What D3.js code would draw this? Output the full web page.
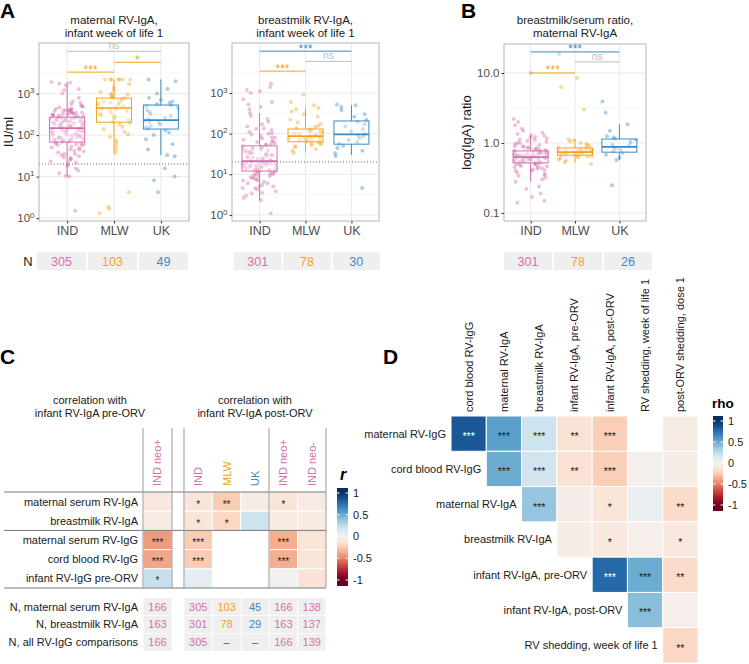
<!DOCTYPE html>
<html><head><meta charset="utf-8">
<script src="https://cdn.jsdelivr.net/npm/d3@7/dist/d3.min.js"></script>
<style>
body{margin:0;background:#fff;}
svg text{font-family:"Liberation Sans",Arial,Helvetica,sans-serif;}
</style></head><body>
<svg id="fig" width="749" height="664"></svg>
<script>
// ================= DATA =================
const sites = ["IND","MLW","UK"];
const siteColors = ["#D56FAB","#F2A31B","#3A8AC7"];

// Panel A (left): maternal RV-IgA, IU/ml
const maternalIgA_IND = [1.5,10,10.5,12,14,16,18,19,21,23,25,27,29,31,33,35,38,40,42,45,48,50,53,56,58,60,62,64,66,
 69,70,72,74,76,78,80,82,85,88,90,93,96,99,102,105,108,112,116,120,124,128,132,136,140,144,
 150,154,158,162,166,170,175,180,186,192,198,204,210,216,222,230,238,246,254,262,268,
 275,285,295,305,315,325,335,345,355,365,380,395,410,430,460,500,560,650,800,1000,1300,1600,1750,1850,1900,
 205,215,228,245,260,290,310,330,350,370,390,420,440,480,520,120,135,95,86,75,60,45,35,28,22,170,185,240,300,400,600,1200];
const maternalIgA_MLW = [1.3,1.65,1.85,4.2,37,45,55,65,75,90,105,120,140,160,180,195,
 210,230,250,270,290,310,330,350,380,410,440,460,490,520,550,580,610,650,690,730,770,
 800,850,900,1000,1100,1200,1400,1700,2200,2200,2200,2200,2200,2200,2200,300,420,600,950];
const maternalIgA_UK = [4.2,8.2,10,16,31,33,45,60,80,100,115,130,145,155,165,180,195,210,225,
 240,260,290,320,360,400,450,500,520,560,600,650,700,800,1000,1300,2000,2200];
// box stats: [q1, median, q3, lower whisker, upper whisker]
const maternalIgA_box = [[68,147,270,10,1900],[205,450,780,37,2200],[140,230,530,33,2200]];
const maternalIgA_N = [305,103,49];
const maternalIgA_sig = [{a:"IND",b:"UK",label:"ns",col:"ns",y:10500},{a:"MLW",b:"UK",label:"*",col:"MLW",y:5700},{a:"IND",b:"MLW",label:"***",col:"MLW",y:3300}];

// Panel A (right): breastmilk RV-IgA, IU/ml
const breastmilkIgA_IND = [1.1,2.3,2.6,3,3.4,3.8,4.2,4.6,5,5.5,6,6.5,7,7.5,8,8.5,9,9.5,10,10.5,11,11.5,
 12.2,12.8,13.1,13.9,14.3,14.8,15.6,16.1,16.4,17.2,17.9,18.3,18.8,19.5,20.1,20.7,
 21.5,22.4,23.6,24.8,26,27.3,28.9,30.2,31.8,33.5,35.1,36.9,38.6,40.4,42.5,44.3,46.7,48.9,
 52,55,58,62,66,71,76,82,88,95,103,112,122,135,150,170,195,230,270,320,
 400,450,520,600,700,1000,1100,1200,1400,1700,
 8,9,10,11,12,13,14,15,16,17,18,19,20,22,24,26,28,30,33,36,40,45,55,65,80,100,130,5,6,7,3.5,4.5];
const breastmilkIgA_MLW = [34,38,42,46,49,52,55,57,59,61,64,66,68,70,72,74,76,78,80,82,84,86,
 88,91,94,97,100,104,108,112,116,120,124,128,135,145,155,170,190,220,260,300,350,400,430,500,600,900];
const breastmilkIgA_UK = [4.6,28,33,38,44,50,56,62,70,78,86,93,100,115,130,150,170,195,220,260,300,380,450,500,520];
const breastmilkIgA_box = [[12,21,50,2.3,320],[63,87,130,34,430],[55,96,205,30,500]];
const breastmilkIgA_N = [301,78,30];
const breastmilkIgA_sig = [{a:"IND",b:"UK",label:"***",col:"UK",y:10700},{a:"MLW",b:"UK",label:"ns",col:"ns",y:6000},{a:"IND",b:"MLW",label:"***",col:"MLW",y:3450}];

// Panel B: breastmilk/serum ratio
const ratio_IND = [0.14,0.15,0.17,0.19,0.22,0.24,0.28,0.3,0.32,0.34,0.36,0.38,0.4,0.41,0.42,0.43,0.44,0.45,0.46,0.47,0.48,0.49,0.5,0.51,
 0.52,0.53,0.54,0.545,0.55,0.56,0.565,0.57,0.58,0.585,0.59,0.6,0.61,0.615,0.62,0.625,
 0.635,0.64,0.65,0.66,0.67,0.68,0.69,0.7,0.71,0.72,0.73,0.74,0.75,0.76,0.77,
 0.78,0.8,0.82,0.84,0.86,0.88,0.9,0.93,0.96,1.0,1.04,1.08,1.12,1.17,1.22,1.27,1.3,
 1.35,1.4,1.5,1.6,1.8,2.0,2.2,10,
 0.45,0.5,0.55,0.58,0.6,0.62,0.65,0.68,0.7,0.72,0.75,0.8,0.85,0.9,1.0,1.1,1.2,0.4,0.35,0.52,0.57,0.63,0.66,0.69,0.74,0.78];
const ratio_MLW = [0.5,0.53,0.56,0.58,0.6,0.62,0.64,0.66,0.67,0.68,0.69,0.7,0.71,0.72,0.73,0.735,
 0.745,0.75,0.76,0.77,0.78,0.79,0.8,0.82,0.84,0.87,0.9,0.93,0.96,1.0,1.05,1.1,1.13,3.0,6.3,8.5,18.7,0.7,0.75,0.8,0.65];
const ratio_UK = [0.25,0.57,0.62,0.68,0.72,0.76,0.8,0.84,0.87,0.9,0.95,1.0,1.05,1.1,1.15,1.2,1.25,1.5,1.85,2.7,3.9];
const ratio_box = [[0.52,0.63,0.77,0.28,1.3],[0.67,0.74,0.85,0.52,1.13],[0.74,0.88,1.14,0.57,1.85]];
const ratio_N = [301,78,26];
const ratio_sig = [{a:"IND",b:"UK",label:"***",col:"UK",y:20},{a:"MLW",b:"UK",label:"ns",col:"ns",y:14.4},{a:"IND",b:"MLW",label:"***",col:"MLW",y:10}];

const logTicksIU = [1,10,100,1000];
const ratioTicks = [0.1,1,10];
const ratioTickLabels = ["0.1","1.0","10.0"];
const cutoffIU = 20;

// Panel C
const cRows = ["maternal serum RV-IgA","breastmilk RV-IgA","maternal serum RV-IgG","cord blood RV-IgG","infant RV-IgG pre-ORV"];
const cPreCols = ["IND neo+"];
const cPreColSite = ["IND"];
const cPostCols = ["IND","MLW","UK","IND neo+","IND neo-"];
const cPostColSite = ["IND","MLW","UK","IND","IND"];
const cPre_r = [[-0.1,-0.07,-0.42,-0.39,0.22]];
const cPre_sig = [["","","***","***","*"]];
const cPost_r = [[-0.12,-0.12,-0.25,-0.25,0.1],[-0.25,-0.2,null,null,null],[-0.06,0.2,null,null,null],[-0.12,-0.08,-0.36,-0.36,0.02],[-0.08,-0.07,-0.12,-0.12,-0.13]];
const cPost_sig = [["*","*","***","***",""],["**","*","","",""],["","","","",""],["*","","***","***",""],["","","","",""]];
const cNLabels = ["N, maternal serum RV-IgA","N, breastmilk RV-IgA","N, all RV-IgG comparisons"];
const cPre_N = [[166,163,166]];
const cPost_N = [[305,301,305],[103,78,null],[45,29,null],[166,163,166],[138,137,139]];
const legendTicks = [1,0.5,0,-0.5,-1];

// Panel D
const dRows = ["maternal RV-IgG","cord blood RV-IgG","maternal RV-IgA","breastmilk RV-IgA","infant RV-IgA, pre-ORV","infant RV-IgA, post-ORV","RV shedding, week of life 1"];
const dCols = ["cord blood RV-IgG","maternal RV-IgA","breastmilk RV-IgA","infant RV-IgA, pre-ORV","infant RV-IgA, post-ORV","RV shedding, week of life 1","post-ORV shedding, dose 1"];
const dRho = [
 [0.85,0.55,0.2,-0.14,-0.24,null,-0.06],
 [null,0.5,0.18,-0.14,-0.24,-0.02,-0.05],
 [null,null,0.38,-0.04,-0.12,0.05,-0.18],
 [null,null,null,-0.05,-0.1,-0.03,-0.1],
 [null,null,null,null,0.78,0.5,-0.18],
 [null,null,null,null,null,0.42,-0.03],
 [null,null,null,null,null,null,-0.2]];
const dSig = [
 ["***","***","***","**","***","",""],
 ["","***","***","**","***","",""],
 ["","","***","","*","","**"],
 ["","","","","*","","*"],
 ["","","","","***","***","**"],
 ["","","","","","***",""],
 ["","","","","","","**"]];

// ================= DRAW =================
const svg = d3.select("#fig");
const TXT = "#4D4D4D";
const colorOf = k => k==="ns" ? "#BDBDBD" : siteColors[sites.indexOf(k)];
const rdbu = v => d3.interpolateRdBu((v+1)/2);
// deterministic horizontal jitter offset (display only)
function jitter(i,k){ const s=Math.sin((i+1)*12.9898+(k+1)*78.233)*43758.5453; return s-Math.floor(s)-0.5; }

function boxPanel(cfg){
  const g = svg.append("g");
  const x = d3.scalePoint().domain(sites).range([cfg.x0,cfg.x1]).padding(0.6);
  const y = d3.scaleLog().domain(cfg.yDomain).range([cfg.yB,cfg.yT]);
  const lo = Math.log10(cfg.yDomain[0]), hi = Math.log10(cfg.yDomain[1]);
  const minor = [];
  for(let e=Math.floor(lo)-1;e<=Math.ceil(hi);e++){const v=Math.pow(10,e+0.5); if(Math.log10(v)>lo&&Math.log10(v)<hi) minor.push(v);}
  g.append("rect").attr("x",cfg.x0).attr("y",cfg.yT).attr("width",cfg.x1-cfg.x0).attr("height",cfg.yB-cfg.yT).attr("fill","#fff");
  g.append("g").selectAll("line").data(minor).join("line")
    .attr("x1",cfg.x0).attr("x2",cfg.x1).attr("y1",d=>y(d)).attr("y2",d=>y(d)).attr("stroke","#F2F2F2").attr("stroke-width",0.6);
  g.append("g").selectAll("line").data(cfg.ticks).join("line")
    .attr("x1",cfg.x0).attr("x2",cfg.x1).attr("y1",d=>y(d)).attr("y2",d=>y(d)).attr("stroke","#E8E8E8").attr("stroke-width",0.9);
  g.append("g").selectAll("line").data(sites).join("line")
    .attr("x1",d=>x(d)).attr("x2",d=>x(d)).attr("y1",cfg.yT).attr("y2",cfg.yB).attr("stroke","#E8E8E8").attr("stroke-width",0.9);
  if(cfg.cutoff){
    g.append("line").attr("x1",cfg.x0).attr("x2",cfg.x1).attr("y1",y(cfg.cutoff)).attr("y2",y(cfg.cutoff))
     .attr("stroke","#555").attr("stroke-width",0.9).attr("stroke-dasharray","1,2");
  }
  cfg.points.forEach((arr,k)=>{
    g.append("g").selectAll("circle").data(arr).join("circle")
      .attr("cx",(d,i)=>x(sites[k])+jitter(i,k+cfg.seed)*34).attr("cy",d=>y(d)).attr("r",2)
      .attr("fill",siteColors[k]).attr("fill-opacity",0.42);
  });
  const bw = 35;
  cfg.box.forEach((b,k)=>{
    const cx = x(sites[k]), c = siteColors[k];
    const bg = g.append("g").attr("stroke",c).attr("fill","none");
    bg.append("line").attr("x1",cx).attr("x2",cx).attr("y1",y(b[2])).attr("y2",y(b[4])).attr("stroke-width",1);
    bg.append("line").attr("x1",cx).attr("x2",cx).attr("y1",y(b[0])).attr("y2",y(b[3])).attr("stroke-width",1);
    bg.append("rect").attr("x",cx-bw/2).attr("width",bw).attr("y",y(b[2])).attr("height",y(b[0])-y(b[2]))
      .attr("fill","#fff").attr("fill-opacity",0.35).attr("stroke-width",1);
    bg.append("line").attr("x1",cx-bw/2).attr("x2",cx+bw/2).attr("y1",y(b[1])).attr("y2",y(b[1])).attr("stroke-width",1.7);
  });
  g.append("rect").attr("x",cfg.x0).attr("y",cfg.yT).attr("width",cfg.x1-cfg.x0).attr("height",cfg.yB-cfg.yT)
    .attr("fill","none").attr("stroke","#B5B5B5").attr("stroke-width",1);
  const ya = g.append("g").attr("transform",`translate(${cfg.x0},0)`)
    .call(d3.axisLeft(y).tickValues(cfg.ticks).tickSize(2.5).tickPadding(2).tickFormat((d,i)=>cfg.labels?cfg.labels[i]:""));
  ya.select(".domain").remove();
  ya.selectAll(".tick line").attr("stroke","#333");
  ya.selectAll(".tick text").attr("fill",TXT).attr("font-size","11.5px");
  if(!cfg.labels){
    ya.selectAll(".tick text").each(function(d){
      const t=d3.select(this); t.text(null);
      t.append("tspan").text("10");
      t.append("tspan").attr("dy","-0.55em").attr("font-size","8px").text(Math.round(Math.log10(d)));
    });
  }
  const xa = g.append("g").attr("transform",`translate(0,${cfg.yB})`).call(d3.axisBottom(x).tickSize(2.5).tickPadding(3));
  xa.select(".domain").remove();
  xa.selectAll(".tick line").attr("stroke","#333");
  xa.selectAll(".tick text").attr("fill",TXT).attr("font-size","12.5px");
  cfg.sig.forEach(s=>{
    const yy = y(s.y);
    g.append("line").attr("x1",x(s.a)).attr("x2",x(s.b)).attr("y1",yy).attr("y2",yy).attr("stroke",colorOf(s.col)).attr("stroke-width",1);
    g.append("text").attr("x",(x(s.a)+x(s.b))/2).attr("y",s.label==="ns"?yy-2:yy+1.5).attr("text-anchor","middle")
      .attr("font-size",s.label==="ns"?"10.5px":"12px").attr("fill",colorOf(s.col)).text(s.label);
  });
  cfg.title.forEach((t,i)=>{
    g.append("text").attr("x",(cfg.x0+cfg.x1)/2).attr("y",24+i*12.5).attr("text-anchor","middle")
      .attr("font-size","11.5px").attr("fill","#1a1a1a").text(t);
  });
  if(cfg.ylab){
    g.append("text").attr("transform",`translate(${cfg.ylabX},${(cfg.yT+cfg.yB)/2}) rotate(-90)`).attr("text-anchor","middle")
      .attr("font-size","13px").attr("fill","#1a1a1a").text(cfg.ylab);
  }
  const nx = d3.scaleBand().domain(sites).range([cfg.nx0,cfg.nx1]).paddingInner(0.04);
  const ng = g.append("g");
  ng.selectAll("rect").data(cfg.N).join("rect").attr("x",(d,i)=>nx(sites[i])).attr("width",nx.bandwidth())
    .attr("y",252).attr("height",18).attr("fill","#EFEFEF");
  ng.selectAll("text").data(cfg.N).join("text").attr("x",(d,i)=>nx(sites[i])+nx.bandwidth()/2).attr("y",261).attr("dy","0.36em")
    .attr("text-anchor","middle").attr("font-size","12.5px").attr("fill",(d,i)=>siteColors[i]).text(d=>d);
}

boxPanel({x0:39,x1:189,yT:43,yB:221,yDomain:[Math.pow(10,-0.07),Math.pow(10,4.22)],ticks:logTicksIU,seed:0,
  points:[maternalIgA_IND,maternalIgA_MLW,maternalIgA_UK],box:maternalIgA_box,sig:maternalIgA_sig,cutoff:cutoffIU,
  title:["maternal RV-IgA,","infant week of life 1"],ylab:"IU/ml",ylabX:13,N:maternalIgA_N,nx0:37,nx1:188});
boxPanel({x0:232,x1:379,yT:43,yB:221,yDomain:[Math.pow(10,-0.15),Math.pow(10,4.23)],ticks:logTicksIU,seed:3,
  points:[breastmilkIgA_IND,breastmilkIgA_MLW,breastmilkIgA_UK],box:breastmilkIgA_box,sig:breastmilkIgA_sig,cutoff:cutoffIU,
  title:["breastmilk RV-IgA,","infant week of life 1"],N:breastmilkIgA_N,nx0:234,nx1:380});
boxPanel({x0:504,x1:646,yT:44,yB:221,yDomain:[Math.pow(10,-1.114),Math.pow(10,1.414)],ticks:ratioTicks,labels:ratioTickLabels,seed:6,
  points:[ratio_IND,ratio_MLW,ratio_UK],box:ratio_box,sig:ratio_sig,
  title:["breastmilk/serum ratio,","maternal RV-IgA"],ylab:"log(IgA) ratio",ylabX:471,N:ratio_N,nx0:504,nx1:652});

svg.append("text").attr("x",28).attr("y",261).attr("dy","0.36em").attr("text-anchor","middle").attr("font-size","13px").attr("fill","#1a1a1a").text("N");

[["A",0,18],["B",461,18],["C",0,364],["D",383,364]].forEach(p=>{
  svg.append("text").attr("x",p[1]).attr("y",p[2]).attr("font-size","21px").attr("font-weight","bold").attr("fill","#000").text(p[0]);
});

function drawLegend(g,id,x0,x1,rng,bar,title,italic){
  const s = d3.scaleLinear().domain([-1,1]).range(rng);
  const grad = svg.append("defs").append("linearGradient").attr("id",id).attr("x1",0).attr("x2",0).attr("y1",1).attr("y2",0);
  d3.range(0,1.0001,0.05).forEach(t=>{
    const yPix = bar[1] - t*(bar[1]-bar[0]);
    const v = Math.max(-1,Math.min(1,s.invert(yPix)));
    grad.append("stop").attr("offset",t).attr("stop-color",rdbu(v));
  });
  g.append("rect").attr("x",x0).attr("y",bar[0]).attr("width",x1-x0).attr("height",bar[1]-bar[0]).attr("fill",`url(#${id})`);
  legendTicks.forEach(v=>{
    g.append("line").attr("x1",x0).attr("x2",x0+2.5).attr("y1",s(v)).attr("y2",s(v)).attr("stroke","#fff");
    g.append("line").attr("x1",x1-2.5).attr("x2",x1).attr("y1",s(v)).attr("y2",s(v)).attr("stroke","#fff");
    g.append("text").attr("x",x1+5).attr("y",s(v)).attr("dy","0.36em").attr("font-size","11px").attr("fill","#1a1a1a").text(v);
  });
  g.append("text").attr("x",x0+(italic?3:-1)).attr("y",bar[0]-8).attr("font-size",italic?"16px":"13.5px").attr("font-weight","bold")
    .attr("font-style",italic?"italic":"normal").attr("fill","#000").text(title);
}

// ---------- Panel C ----------
(function(){
  const g = svg.append("g");
  const cy = d3.scaleBand().domain(cRows).range([492,588]);
  const ny = d3.scaleBand().domain(cNLabels).range([598,651]).paddingInner(0.04);
  const xPre = d3.scaleBand().domain(cPreCols.map((d,i)=>i)).range([143,172]);
  const xPost = d3.scaleBand().domain(cPostCols.map((d,i)=>i)).range([184,326]);
  const blocks = [{x:xPre,cols:cPreCols,site:cPreColSite,r:cPre_r,sig:cPre_sig,N:cPre_N},
                  {x:xPost,cols:cPostCols,site:cPostColSite,r:cPost_r,sig:cPost_sig,N:cPost_N}];
  blocks.forEach(b=>{
    b.cols.forEach((c,ci)=>{
      const x0 = b.x(ci), w = b.x.bandwidth();
      b.r[ci].forEach((v,ri)=>{
        if(v===null) return;
        g.append("rect").attr("x",x0).attr("y",cy(cRows[ri])).attr("width",w).attr("height",cy.bandwidth())
          .attr("fill",rdbu(v)).attr("stroke","#fff").attr("stroke-width",1);
        if(b.sig[ci][ri]) g.append("text").attr("x",x0+w/2).attr("y",cy(cRows[ri])+cy.bandwidth()/2).attr("dy","0.6em")
          .attr("text-anchor","middle").attr("font-size","10px").attr("fill","#222").text(b.sig[ci][ri]);
      });
      g.append("text").attr("transform",`translate(${x0+w/2},486) rotate(-90)`).attr("dy","0.36em")
        .attr("font-size","11px").attr("fill",colorOf(b.site[ci])).text(c);
      b.N[ci].forEach((n,ri)=>{
        g.append("rect").attr("x",x0+0.5).attr("width",w-1).attr("y",ny(cNLabels[ri])).attr("height",ny.bandwidth()).attr("fill","#EFEFEF");
        g.append("text").attr("x",x0+w/2).attr("y",ny(cNLabels[ri])+ny.bandwidth()/2).attr("dy","0.36em").attr("text-anchor","middle")
          .attr("font-size","11px").attr("fill",n===null?"#555":colorOf(b.site[ci])).text(n===null?"–":n);
      });
    });
  });
  cNLabels.forEach(l=>g.append("text").attr("x",138).attr("y",ny(l)+ny.bandwidth()/2).attr("dy","0.36em").attr("text-anchor","end")
    .attr("font-size","11px").attr("fill","#1a1a1a").text(l));
  cRows.forEach(l=>g.append("text").attr("x",138).attr("y",cy(l)+cy.bandwidth()/2).attr("dy","0.36em").attr("text-anchor","end")
    .attr("font-size","11px").attr("fill","#1a1a1a").text(l));
  [cy(cRows[0]),cy(cRows[2]),cy.range()[1]].forEach(yy=>g.append("line").attr("x1",4).attr("x2",326).attr("y1",yy).attr("y2",yy).attr("stroke","#777").attr("stroke-width",1));
  [143,172,184,269,326].forEach(xx=>g.append("line").attr("x1",xx).attr("x2",xx).attr("y1",428).attr("y2",588).attr("stroke","#999").attr("stroke-width",1));
  [["correlation with","infant RV-IgA pre-ORV",90],["correlation with","infant RV-IgA post-ORV",255]].forEach(t=>{
    g.append("text").attr("x",t[2]).attr("y",404).attr("text-anchor","middle").attr("font-size","11px").attr("fill","#1a1a1a").text(t[0]);
    g.append("text").attr("x",t[2]).attr("y",416.5).attr("text-anchor","middle").attr("font-size","11px").attr("fill","#1a1a1a").text(t[1]);
  });
  drawLegend(g,"cgrad",337,348,[580,493],[488,586],"r",true);
})();

// ---------- Panel D ----------
(function(){
  const g = svg.append("g");
  const x = d3.scaleBand().domain(dCols).range([451,698]);
  const y = d3.scaleBand().domain(dRows).range([416,663]);
  dRho.forEach((row,ri)=>{
    row.forEach((v,ci)=>{
      if(v===null) return;
      g.append("rect").attr("x",x(dCols[ci])).attr("y",y(dRows[ri])).attr("width",x.bandwidth()).attr("height",y.bandwidth())
        .attr("fill",rdbu(v)).attr("stroke","#fff").attr("stroke-width",1);
      if(dSig[ri][ci]) g.append("text").attr("x",x(dCols[ci])+x.bandwidth()/2).attr("y",y(dRows[ri])+y.bandwidth()/2).attr("dy","0.6em")
        .attr("text-anchor","middle").attr("font-size","10.5px").attr("fill",Math.abs(v)>0.65?"#fff":"#222").text(dSig[ri][ci]);
    });
    g.append("text").attr("x",x(dCols[ri])-5).attr("y",y(dRows[ri])+y.bandwidth()/2).attr("dy","0.36em").attr("text-anchor","end")
      .attr("font-size","11px").attr("fill","#1a1a1a").text(dRows[ri]);
  });
  dCols.forEach(c=>g.append("text").attr("transform",`translate(${x(c)+x.bandwidth()/2},412) rotate(-90)`).attr("dy","0.36em")
    .attr("font-size","11px").attr("fill","#1a1a1a").text(c));
  drawLegend(g,"dgrad",713,723,[505,421],[416,511],"rho",false);
})();
</script>
</body></html>
